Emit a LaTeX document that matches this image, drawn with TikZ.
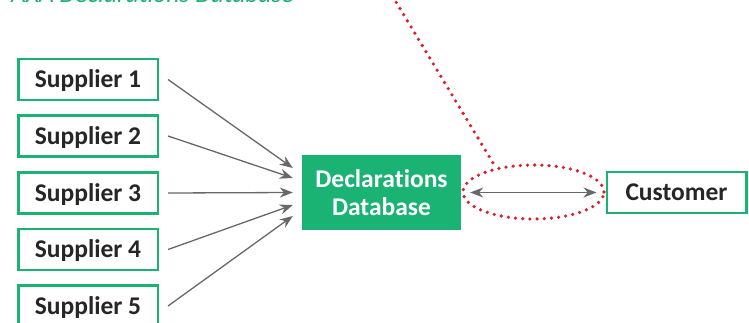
\documentclass[tikz,border=0pt]{standalone}
\usepackage{fontspec}
\setmainfont{Carlito}[Ligatures={NoCommon,NoContextual}]
\usetikzlibrary{arrows.meta,shapes.geometric}
\definecolor{axagreen}{RGB}{27,179,116}
\definecolor{dotred}{RGB}{218,32,44}
\definecolor{arrgray}{RGB}{104,104,104}
\tikzset{
  supbox/.style={draw=axagreen,line width=2.5pt,fill=white,minimum width=139.5pt,minimum height=41pt,inner sep=0pt,font=\fontsize{25.5}{28}\selectfont\bfseries,text=black!85,text depth=1.5pt},
  dbbox/.style={fill=axagreen,minimum width=159pt,minimum height=75pt,inner sep=0pt,align=center,font=\fontsize{25.5}{28}\selectfont\bfseries,text=white},
  feed/.style={draw=arrgray,line width=1.3pt,-{Stealth[length=13pt,width=10pt]}},
  both/.style={draw=arrgray,line width=1.3pt,{Stealth[length=13pt,width=10pt]}-{Stealth[length=13pt,width=10pt]}},
  reddots/.style={draw=dotred,line width=3.6pt,line cap=round,dash pattern=on 0pt off 7.2pt},
}
\begin{document}
\begin{tikzpicture}[x=1pt,y=-1pt]
\clip (0,0) rectangle (749,323);
\fill[white] (0,0) rectangle (749,323);
\node[anchor=base west,text=axagreen,font=\fontsize{25.5}{28}\selectfont\itshape,inner sep=0pt] (title) at (11,3) {AXA Declara\kern0pt tions Database};
\node[supbox] (s1) at (88,79.5) {Supplier 1};
\node[supbox] (s2) at (88,136) {Supplier 2};
\node[supbox] (s3) at (88,193) {Supplier 3};
\node[supbox] (s4) at (88,249.5) {Supplier 4};
\node[supbox] (s5) at (88,306) {Supplier 5};
\node[dbbox] (db) at (381.5,192.5) {Declara\kern0pt tions\\Database};
\node[supbox] (cu) at (676.5,192.5) {Customer};
\draw[feed] ([xshift=9pt]s1.east) -- ([xshift=-9pt,yshift=24.5pt]db.west);
\draw[feed] ([xshift=9pt]s2.east) -- ([xshift=-9pt,yshift=14.5pt]db.west);
\draw[feed] ([xshift=9pt]s3.east) -- ([xshift=-9pt,yshift=0pt]db.west);
\draw[feed] ([xshift=9pt]s4.east) -- ([xshift=-9pt,yshift=-12.5pt]db.west);
\draw[feed] ([xshift=9pt]s5.east) -- ([xshift=-9pt,yshift=-23.5pt]db.west);
\draw[both] ([xshift=9pt]db.east) -- ([xshift=-9pt]cu.west);
\node[ellipse,reddots,minimum width=141pt,minimum height=54pt,inner sep=0pt] (hl) at (533.5,192) {};
\coordinate (top) at (388.8,-10);
\draw[reddots] (top) -- (hl.147);
\end{tikzpicture}
\end{document}
